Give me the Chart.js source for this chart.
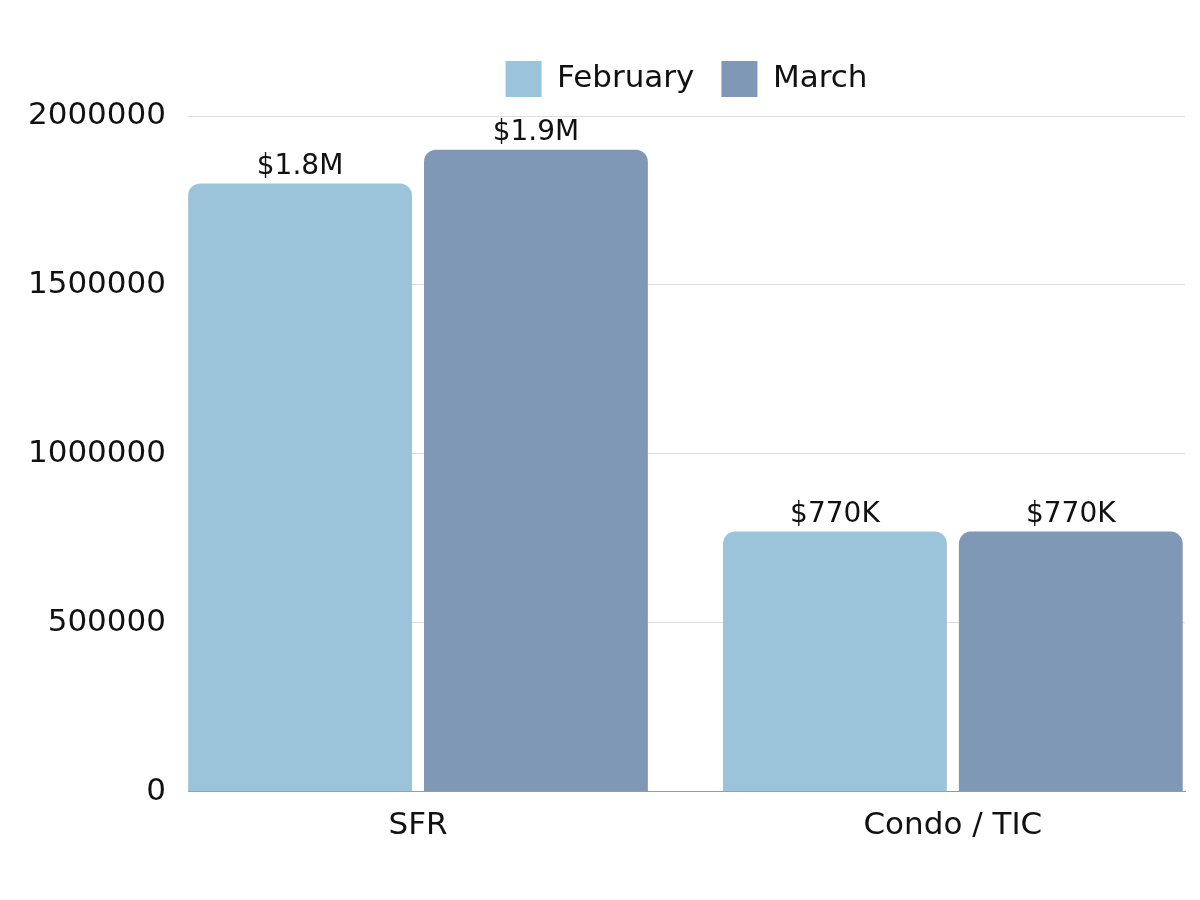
<!DOCTYPE html>
<html>
<head>
<meta charset="utf-8">
<script src="https://cdn.jsdelivr.net/npm/chart.js@4"></script>
<style>
  html, body { margin: 0; padding: 0; background: #fff; }
  #wrap { width: 1200px; height: 900px; }
</style>
</head>
<body>
<div id="wrap"><canvas id="salesChart"></canvas></div>
<script>
const categories = ['SFR', 'Condo / TIC'];
const febValues = [1800000, 770000];
const marValues = [1900000, 770000];
const febLabels = ['$1.8M', '$770K'];
const marLabels = ['$1.9M', '$770K'];
const yTicks = [0, 500000, 1000000, 1500000, 2000000];

const FONT = "'DejaVu Sans', sans-serif";

// draws the value text above each bar
const valueLabels = {
  id: 'valueLabels',
  beforeInit(chart) {
    // a little extra room under the legend
    const fit = chart.legend.fit;
    chart.legend.fit = function () {
      fit.call(this);
      this.height += 9;
    };
  },
  afterDatasetsDraw(chart) {
    const ctx = chart.ctx;
    const texts = [febLabels, marLabels];
    ctx.save();
    ctx.font = '28px ' + FONT;
    ctx.fillStyle = '#111';
    ctx.textAlign = 'center';
    ctx.textBaseline = 'bottom';
    chart.data.datasets.forEach((ds, i) => {
      chart.getDatasetMeta(i).data.forEach((bar, j) => {
        ctx.fillText(texts[i][j], bar.x, bar.y - 3);
      });
    });
    ctx.restore();
  }
};

const ctx = document.getElementById('salesChart').getContext('2d');
const salesChart = new Chart(ctx, {
  type: 'bar',
  data: {
    datasets: [
      {
        label: 'February',
        data: febValues.map((v, i) => ({ x: i, y: v })),
        backgroundColor: '#9bc3d9',
        borderRadius: { topLeft: 12, topRight: 12 },
        borderSkipped: 'bottom',
        categoryPercentage: 0.882,
        barPercentage: 0.949
      },
      {
        label: 'March',
        data: marValues.map((v, i) => ({ x: i, y: v })),
        backgroundColor: '#7f98b5',
        borderRadius: { topLeft: 12, topRight: 12 },
        borderSkipped: 'bottom',
        categoryPercentage: 0.882,
        barPercentage: 0.949
      }
    ]
  },
  options: {
    responsive: true,
    maintainAspectRatio: false,
    animation: false,
    layout: { padding: { top: 34, right: 15, bottom: 39, left: 0 } },
    plugins: {
      legend: {
        display: true,
        position: 'top',
        fullSize: false,
        labels: {
          boxWidth: 36,
          boxHeight: 36,
          padding: 27,
          color: '#111',
          font: { family: FONT, size: 31 }
        }
      },
      tooltip: { enabled: false }
    },
    scales: {
      x: {
        type: 'linear',
        offset: false,
        bounds: 'data',
        min: -0.43,
        max: 1.434,
        afterBuildTicks: (scale) => { scale.ticks = categories.map((c, i) => ({ value: i })); },
        ticks: {
          color: '#111',
          padding: 16,
          font: { family: FONT, size: 31 },
          callback: (v) => categories[v]
        },
        grid: { display: false, drawTicks: false },
        border: { display: true, color: '#999' }
      },
      y: {
        min: 0,
        max: 2000000,
        afterBuildTicks: (scale) => { scale.ticks = yTicks.map(v => ({ value: v })); },
        afterFit: (scale) => { scale.width = 188; },
        ticks: {
          color: '#111',
          padding: 22,
          font: { family: FONT, size: 31 },
          callback: (v) => String(v)
        },
        grid: { color: '#dcdcdc', drawTicks: false },
        border: { display: false }
      }
    }
  },
  plugins: [valueLabels]
});
</script>
</body>
</html>
